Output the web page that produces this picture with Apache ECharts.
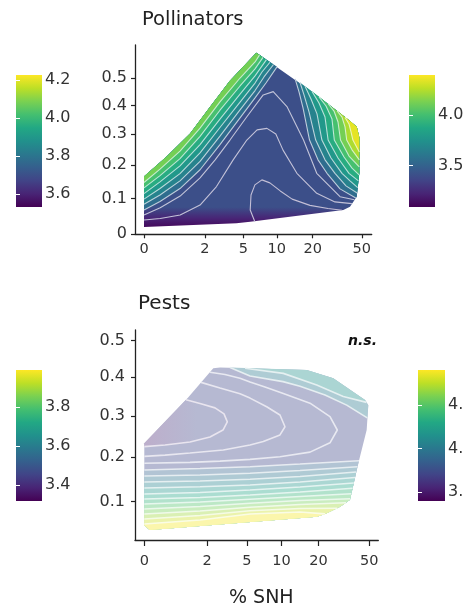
<!DOCTYPE html>
<html><head><meta charset="utf-8">
<script src="https://cdn.jsdelivr.net/npm/echarts@6/dist/echarts.min.js"></script>
<style>html,body{margin:0;padding:0;background:#fff}#c{width:464px;height:609px}</style>
</head><body><div id="c"></div>
<script>
// ---------- tick labels ----------
const snhTicks = [0, 2, 5, 10, 20, 50];
const pollYTicks = [0, 0.1, 0.2, 0.3, 0.4, 0.5];
const pestYTicks = [0.1, 0.2, 0.3, 0.4, 0.5];
// colour bars: [min, max] and ticks
const pollFillRange = [3.532, 4.226], pollFillTicks = [3.6, 3.8, 4.0, 4.2];
const pollLineRange = [3.09, 4.40],   pollLineTicks = [3.5, 4.0];
const pestFillRange = [3.32, 3.988],  pestFillTicks = [3.4, 3.6, 3.8];
const pestLineRange = [3.396, 4.904], pestLineTicks = [3.5, 4.0, 4.5];

// ---------- Pollinators: data hull (% SNH, y) ----------
const pollHull = [[0,0.02],[0,0.165],[0.5,0.227],[1.3,0.303],[2.3,0.395],[3.7,0.49],[6.6,0.60],[14.7,0.49],[27.7,0.40],[39,0.35],[45.5,0.326],[47.7,0.29],[47.7,0.175],[45.5,0.105],[40.2,0.076],[35.5,0.067],[5.8,0.034],[4.3,0.03]];
// contour lines
const pollArch1 = [[6.4,0.034],[5.8,0.067],[5.9,0.110],[6.4,0.140],[7.4,0.155],[8.7,0.146],[10.7,0.122],[13.5,0.098],[19.0,0.080],[26.7,0.071],[34.7,0.066]];
const pollArch2 = [[0,0.039],[0.34,0.043],[0.92,0.053],[1.75,0.081],[2.7,0.135],[4.0,0.217],[5.4,0.281],[6.7,0.315],[8.2,0.320],[9.8,0.301],[11.3,0.248],[14.8,0.175],[21.6,0.115],[30.4,0.090],[41.6,0.085]];
const pollArch3 = [[0,0.053],[0.34,0.073],[0.92,0.107],[1.75,0.161],[2.61,0.217],[3.72,0.281],[5.4,0.360],[7.6,0.438],[9.3,0.450],[12.2,0.396],[16.8,0.281],[21.6,0.175],[33.4,0.105],[43.6,0.096]];
const pollLeft374 = [[0,0.067],[0.335,0.091],[0.915,0.129],[1.75,0.186],[2.94,0.266],[4.66,0.356],[6.42,0.427],[8.04,0.482],[10.03,0.544]];
const pollLeft380 = [[0,0.083],[0.335,0.110],[0.915,0.152],[1.75,0.212],[2.94,0.294],[4.66,0.384],[6.42,0.454],[7.72,0.505],[9.36,0.553]];
const pollLeft386 = [[0,0.098],[0.335,0.129],[0.915,0.174],[1.75,0.239],[2.94,0.323],[4.66,0.412],[6.42,0.482],[7.41,0.524],[8.72,0.562]];
const pollLeft392 = [[0,0.114],[0.335,0.149],[0.915,0.198],[1.75,0.266],[2.94,0.352],[4.66,0.441],[6.42,0.509],[8.12,0.572]];
const pollLeft398 = [[0,0.131],[0.335,0.168],[0.915,0.221],[1.75,0.293],[2.94,0.383],[4.66,0.471],[6.42,0.536],[7.57,0.581]];
const pollLeft404 = [[0,0.147],[0.335,0.188],[0.915,0.245],[1.75,0.321],[2.94,0.413],[4.66,0.501],[6.42,0.563],[7.04,0.590]];
const pollRight374 = [[14.3,0.498],[15.41,0.449],[16.64,0.391],[18.84,0.281],[22.12,0.217],[26.2,0.175],[33.39,0.128],[44.75,0.101]];
const pollRight380 = [[15.71,0.484],[16.96,0.438],[18.66,0.377],[21.18,0.281],[25.24,0.217],[30.43,0.175],[37.33,0.137],[45.83,0.116]];
const pollRight386 = [[17.29,0.470],[19.38,0.423],[21.71,0.370],[23.81,0.281],[28.24,0.223],[34.66,0.175],[40.2,0.152],[46.34,0.132]];
const pollRight392 = [[19.75,0.451],[22.54,0.409],[25.24,0.359],[26.75,0.281],[32.18,0.223],[39.46,0.175],[46.94,0.152]];
const pollRight398 = [[22.54,0.431],[25.72,0.398],[28.77,0.352],[30.03,0.281],[35.97,0.226],[41.72,0.191],[47.55,0.170]];
const pollRight404 = [[26.7,0.407],[29.86,0.380],[32.18,0.342],[33.7,0.281],[39.46,0.229],[47.72,0.195]];
const pollRight410 = [[31.59,0.381],[34.66,0.359],[36.65,0.325],[37.82,0.281],[41.72,0.249],[47.72,0.217]];
const pollRight416 = [[36.65,0.358],[39.46,0.335],[40.95,0.308],[42.42,0.281],[47.72,0.242]];
const pollLines = [pollArch1, pollArch2, pollArch3,
  pollLeft374, pollLeft380, pollLeft386, pollLeft392, pollLeft398, pollLeft404,
  pollRight374, pollRight380, pollRight386, pollRight392, pollRight398, pollRight404, pollRight410, pollRight416];
const pollLevels = [3.64, 3.66, 3.68,
  3.74, 3.80, 3.86, 3.92, 3.98, 4.04,
  3.74, 3.80, 3.86, 3.92, 3.98, 4.04, 4.10, 4.16];

// ---------- Pests ----------
const pestHull = [[0,0.233],[1.16,0.347],[2.34,0.424],[2.76,0.426],[16.1,0.419],[26.2,0.397],[46.4,0.34],[49.2,0.327],[47.8,0.265],[42.4,0.201],[40,0.1705],[35.45,0.104],[29.6,0.089],[23.3,0.075],[19.4,0.068],[0.1,0.04],[0,0.05]];
const pestC1 = [[1.073,0.341],[1.648,0.331],[2.442,0.320],[3.029,0.305],[3.268,0.285],[2.958,0.265],[2.155,0.248],[1.223,0.236],[0.436,0.229],[0,0.225]];
const pestC2 = [[1.695,0.386],[2.756,0.371],[4.329,0.356],[5.347,0.345],[7.498,0.323],[9.72,0.302],[10.7,0.273],[9.72,0.253],[7.008,0.237],[5.347,0.229],[2.979,0.217],[1.223,0.210],[0.436,0.205],[0,0.202]];
const pestC3 = [[2.154,0.413],[3.099,0.407],[4.329,0.397],[5.347,0.387],[7.25,0.374],[10.36,0.357],[17.12,0.332],[24.7,0.298],[28.2,0.265],[24.7,0.234],[17.12,0.212],[9.72,0.201],[5.347,0.195],[2.756,0.191],[1.223,0.188],[0,0.186]];
const pestT2 = [[3.474,0.426],[5.347,0.403],[10.3,0.388],[14.21,0.376],[22.55,0.353],[33.42,0.327],[48.33,0.295]];
const pestT1 = [[4.815,0.424],[10.36,0.410],[19.37,0.379],[31.43,0.349],[47.64,0.334]];
const pestL1 = [[0,0.1705],[1.648,0.174],[5.347,0.1781],[14.21,0.1843],[41.67,0.1919]];
const pestL2 = [[0,0.1569],[1.648,0.1592],[5.347,0.163],[14.21,0.1694],[40.57,0.1779]];
const pestL3 = [[0,0.1434],[1.648,0.1456],[5.347,0.1495],[14.21,0.1558],[39.63,0.166]];
const pestL4 = [[0,0.130],[1.648,0.1327],[5.347,0.1367],[14.21,0.1434],[38.79,0.1535]];
const pestL5 = [[0,0.1168],[1.648,0.1201],[5.347,0.1256],[14.21,0.1322],[37.96,0.1412]];
const pestL6 = [[0,0.1059],[1.648,0.1091],[5.347,0.1146],[14.21,0.1212],[37.15,0.1294]];
const pestL7 = [[0,0.095],[1.648,0.0994],[5.347,0.1052],[14.21,0.1113],[36.36,0.1174]];
const pestL8 = [[0,0.0843],[1.648,0.0896],[5.347,0.0965],[14.21,0.1026],[35.65,0.1065]];
const pestL9 = [[0,0.0736],[1.648,0.080],[5.347,0.0879],[14.21,0.0939],[33.0,0.0978]];
const pestL10 = [[0,0.0631],[1.648,0.0704],[5.347,0.0806],[14.21,0.0854],[28.05,0.086]];
const pestL11 = [[0,0.0526],[1.648,0.061],[5.347,0.0736],[14.21,0.0779],[22.55,0.0738]];
const pestLines = [pestC1, pestC2, pestC3, pestT2, pestT1,
  pestL1, pestL2, pestL3, pestL4, pestL5, pestL6, pestL7, pestL8, pestL9, pestL10, pestL11];
const pestLevels = [3.40, 3.43, 3.46, 3.56, 3.62,
  3.50, 3.545, 3.59, 3.635, 3.68, 3.725, 3.77, 3.815, 3.86, 3.905, 3.95];

// ---------- helpers ----------
const tx = v => Math.log(v + 1);
const ty = v => Math.log(v + 1.2);
const VIR = ['#440154','#482475','#414487','#355f8d','#2a788e','#21918c','#22a884','#44bf70','#7ad151','#bddf26','#fde725'];
function hex2rgb(h){return [parseInt(h.slice(1,3),16),parseInt(h.slice(3,5),16),parseInt(h.slice(5,7),16)];}
function viridis(t){t=Math.max(0,Math.min(1,t));const s=t*10;const i=Math.min(9,Math.floor(s));const f=s-i;const a=hex2rgb(VIR[i]),b=hex2rgb(VIR[i+1]);return a.map((v,k)=>v+(b[k]-v)*f);}
function fade(c,f){return c.map(v=>v+(255-v)*f);}
function rgb(c){return 'rgb('+c.map(v=>Math.round(v)).join(',')+')';}
const norm = (v, r) => (v - r[0]) / (r[1] - r[0]);

function segDist(p,a,b){const dx=b[0]-a[0],dy=b[1]-a[1];const l2=dx*dx+dy*dy;let t=l2?((p[0]-a[0])*dx+(p[1]-a[1])*dy)/l2:0;t=Math.max(0,Math.min(1,t));const x=a[0]+t*dx-p[0],y=a[1]+t*dy-p[1];return x*x+y*y;}
function nearestSeg(H,p){let best=0,bd=Infinity;for(let i=0;i<H.length;i++){const d=segDist(p,H[i],H[(i+1)%H.length]);if(d<bd){bd=d;best=i;}}return best;}
function area(P){let s=0;for(let i=0;i<P.length;i++){const a=P[i],b=P[(i+1)%P.length];s+=a[0]*b[1]-b[0]*a[1];}return Math.abs(s)/2;}
function region(H,L){
  const n=H.length, ia=nearestSeg(H,L[0]), ib=nearestSeg(H,L[L.length-1]);
  const fw=[]; let k=(ib+1)%n; while(true){fw.push(H[k]); if(k===ia) break; k=(k+1)%n;}
  const bw=[]; if(ia!==ib){k=ib; while(true){bw.push(H[k]); if(k===(ia+1)%n) break; k=(k-1+n)%n;}}
  const p1=L.concat(fw), p2=L.concat(bw);
  return area(p1)<area(p2)?p1:p2;
}

const FONT = 'DejaVu Sans';
const pollFillColor = lv => rgb(viridis(norm(lv + 0.04, pollFillRange)));
const pollLineColor = lv => rgb(fade(viridis(norm(lv, pollFillRange)), 0.68));
const pestFillColor = lv => rgb(fade(viridis(norm(lv, pestFillRange)), 0.62));
const pestLineColor = lv => rgb(fade(viridis(norm(lv, pestFillRange)), 0.88));

function fillSeries(gi, hull, lines, levels, baseFill, fillFor){
  return {
    type:'custom', coordinateSystem:'cartesian2d', xAxisIndex:gi, yAxisIndex:gi,
    data:[[1, 0.3]], silent:true, z:1,
    renderItem(params, api){
      const toPx = p => api.coord([tx(p[0]), ty(p[1])]);
      const H = hull.map(toPx);
      const children = [{type:'polygon', shape:{points:H}, style:{fill: baseFill(api), stroke:null}}];
      lines.forEach((ln, i) => {
        const f = fillFor(levels[i], api); if (!f) return;
        children.push({type:'polygon', shape:{points: region(H, ln.map(toPx))}, style:{fill:f, stroke:null}});
      });
      return {type:'group', children};
    }
  };
}
function lineSeries(gi, lines, levels, colorFn, width){
  return lines.map((ln, i) => ({
    type:'line', xAxisIndex:gi, yAxisIndex:gi, data: ln.map(p => [tx(p[0]), ty(p[1])]),
    symbol:'none', silent:true, z:3, lineStyle:{color: colorFn(levels[i]), width}
  }));
}
function colorbarSeries(gi, yi, range){
  const stops = VIR.slice().reverse().map((c,i)=>({offset:i/10, color:c}));
  return {type:'custom', coordinateSystem:'cartesian2d', xAxisIndex:gi, yAxisIndex:yi, silent:true, z:2,
    data:[[0, range[0], range[1]]], encode:{x:0, y:[1,2]},
    renderItem(params, api){
      const p0 = api.coord([0, api.value(2)]), p1 = api.coord([1, api.value(1)]);
      return {type:'rect', shape:{x:p0[0], y:p0[1], width:p1[0]-p0[0], height:p1[1]-p0[1]},
        style:{fill:new echarts.graphic.LinearGradient(0,0,0,1,stops)}};
    }};
}

const axisLineStyle = {color:'#222', width:1.3};
function plotX(gi, min, max, margin, tickLen){
  const cv = snhTicks.map(tx);
  return {gridIndex:gi, type:'value', min, max,
    axisLine:{show:true, onZero:false, lineStyle:axisLineStyle},
    axisTick:{show:true, customValues:cv, length:tickLen, lineStyle:{color:'#222', width:1.2}},
    axisLabel:{customValues:cv, formatter:v=>String(Math.round(Math.exp(v)-1)), margin, fontSize:14.5, color:'#333', fontFamily:FONT},
    splitLine:{show:false}};
}
function plotY(gi, min, max, ticks, margin){
  const cv = ticks.map(ty);
  return {gridIndex:gi, type:'value', min, max,
    axisLine:{show:true, onZero:false, lineStyle:axisLineStyle},
    axisTick:{show:true, customValues:cv, length:4, lineStyle:{color:'#222', width:1.2}},
    axisLabel:{customValues:cv, formatter:v=>String(Math.round((Math.exp(v)-1.2)*10)/10), margin, fontSize:16, color:'#333', fontFamily:FONT},
    splitLine:{show:false}};
}
function cbY(gi, range, ticks, pos){
  return {gridIndex:gi, type:'value', min:range[0], max:range[1], position:pos, z:10,
    axisLine:{show:false}, splitLine:{show:false},
    axisTick:{show:true, inside:true, length:4, customValues:ticks, lineStyle:{color:'#fff', width:1}},
    axisLabel:{show: pos==='right', customValues:ticks, formatter:v=>v.toFixed(1), margin:3, fontSize:16, color:'#333', fontFamily:FONT}};
}

const cbs = [
  {grid:{left:16, top:75, width:26, height:132}, range:pollFillRange, ticks:pollFillTicks},
  {grid:{left:409, top:75, width:26, height:132}, range:pollLineRange, ticks:pollLineTicks},
  {grid:{left:16, top:370, width:26, height:131}, range:pestFillRange, ticks:pestFillTicks},
  {grid:{left:418, top:370, width:27, height:131}, range:pestLineRange, ticks:pestLineTicks}
];

const grids = [
  {left:135, top:45, width:236.7, height:189.3},
  {left:135, top:330, width:243.3, height:210}
].concat(cbs.map(c=>c.grid)).map(g => Object.assign({outerBoundsMode:'none', containLabel:false}, g));

const xAxes = [plotX(0, -0.1625, 4.11, 7, 4), plotX(1, -0.1626, 4.091, 14, 6)]
  .concat(cbs.map((c,i)=>({gridIndex:2+i, type:'value', min:0, max:1, show:false})));
const yAxes = [plotY(0, ty(0)-1e-6, 0.6049, pollYTicks, 8), plotY(1, 0.19853, 0.54853, pestYTicks, 10)];
cbs.forEach((c,i)=>{ yAxes.push(cbY(2+i, c.range, c.ticks, 'right')); yAxes.push(cbY(2+i, c.range, c.ticks, 'left')); });

const pollBase = rgb(viridis(0.24));
const pestBase = rgb(fade(viridis(0.21), 0.62));

const series = [];
series.push(fillSeries(0, pollHull, pollLines, pollLevels,
  api => {
    const y0 = api.coord([0, ty(0.075)])[1], y1 = api.coord([0, ty(0.012)])[1];
    return new echarts.graphic.LinearGradient(0, y0, 0, y1, [
      {offset:0, color:pollBase}, {offset:0.5, color:rgb(viridis(0.1))}, {offset:1, color:rgb(viridis(0))}], true);
  },
  lv => lv >= 3.72 ? pollFillColor(lv) : null));
series.push(...lineSeries(0, pollLines, pollLevels, pollLineColor, 1.1));
series.push(fillSeries(1, pestHull, pestLines, pestLevels,
  () => pestBase,
  (lv, api) => {
    if (lv <= 3.41) {
      // low corner: faint purple fading into the base colour
      const a = api.coord([tx(0), ty(0.3)]), b = api.coord([tx(1.5), ty(0.3)]);
      return new echarts.graphic.LinearGradient(a[0], 0, b[0], 0, [
        {offset:0, color:rgb(fade(viridis(0.08), 0.64))}, {offset:1, color:pestBase}], true);
    }
    return lv >= 3.5 ? pestFillColor(lv + 0.03) : null;
  }));
series.push(...lineSeries(1, pestLines, pestLevels, pestLineColor, 1.6));
cbs.forEach((c,i)=>series.push(colorbarSeries(2+i, 2+2*i, c.range)));

const chart = echarts.init(document.getElementById('c'), null, {renderer:'canvas'});
chart.setOption({
  animation:false,
  backgroundColor:'#ffffff',
  title:[
    {text:'Pollinators', left:142, top:10, padding:0, textStyle:{fontFamily:FONT, fontSize:19.5, fontWeight:'normal', color:'#222'}},
    {text:'Pests', left:138, top:294, padding:0, textStyle:{fontFamily:FONT, fontSize:20, fontWeight:'normal', color:'#222'}}
  ],
  graphic:[
    {type:'text', left:229, top:589, style:{text:'% SNH', fontSize:19, fontFamily:FONT, fill:'#222'}},
    {type:'text', right:87, top:334, style:{text:'n.s.', fontSize:14, fontWeight:'bold', fontStyle:'italic', fontFamily:FONT, fill:'#111'}}
  ],
  grid:grids, xAxis:xAxes, yAxis:yAxes, series
});
</script></body></html>
